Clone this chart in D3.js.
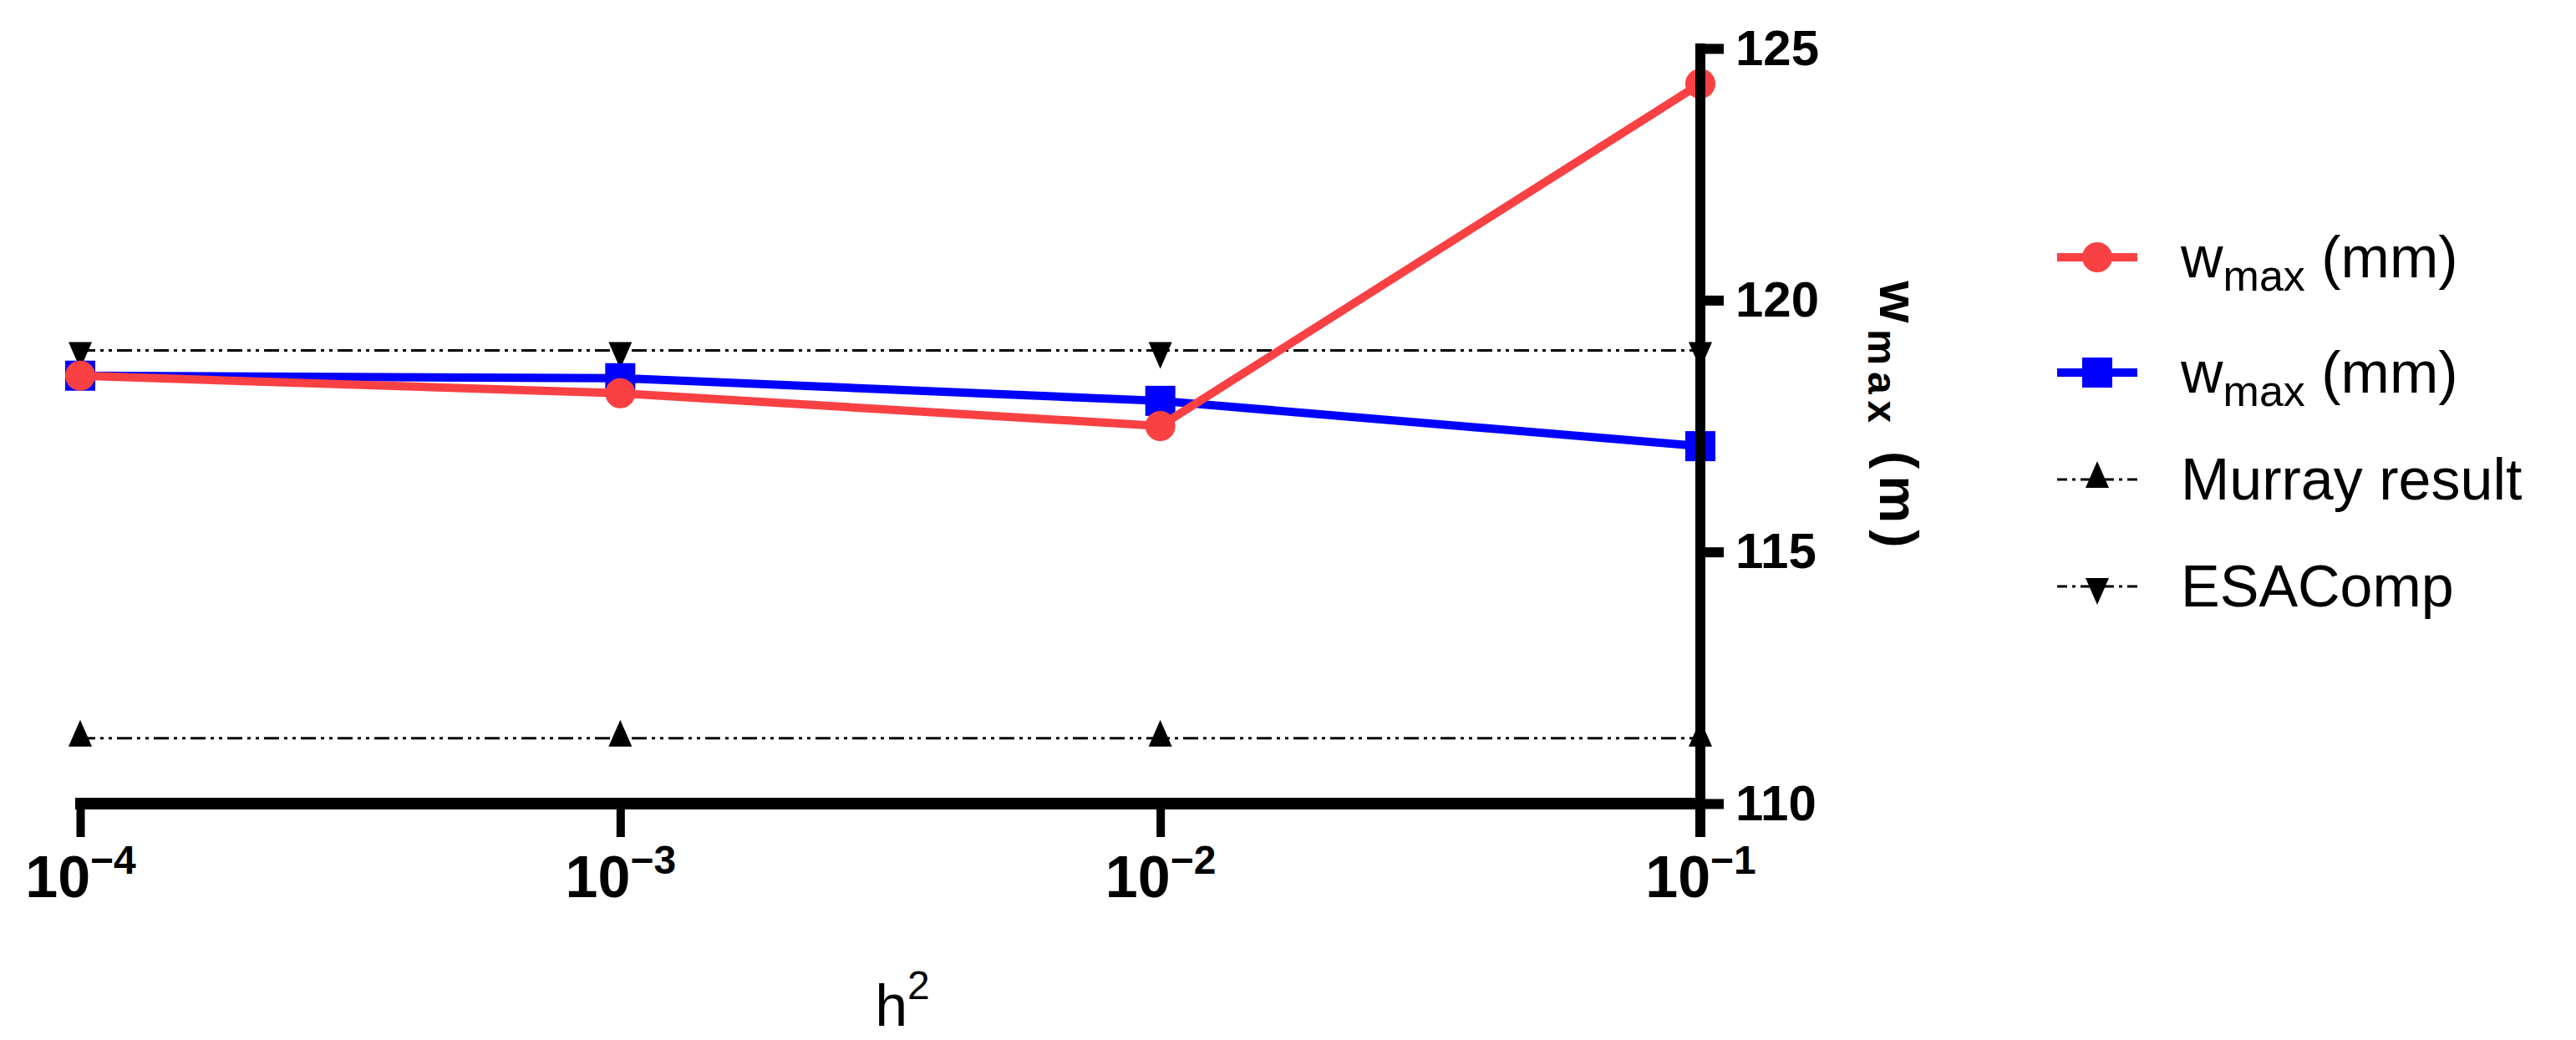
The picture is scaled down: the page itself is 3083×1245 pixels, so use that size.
<!DOCTYPE html>
<meta charset="utf-8">
<script src="https://d3js.org/d3.v7.min.js"></script>
<body style="margin:0;background:#fff">
<div id="chart"></div>
<script>
var xExp = [-4, -3, -2, -1];
var redVals = [118.5, 118.15, 117.5, 124.3];
var blueVals = [118.5, 118.45, 118.0, 117.1];
var murrayVals = [111.3, 111.3, 111.3, 111.3];
var esaVals = [119.0, 119.0, 119.0, 119.0];
var yTicks = [110, 115, 120, 125];

var W = 3083, H = 1245;
var svg = d3.select('#chart').append('svg').attr('width', W).attr('height', H)
  .style('font-family', 'Liberation Sans, Arial, sans-serif');

var x = d3.scaleLinear().domain([-4, -1]).range([96, 2035]);
var y = d3.scaleLinear().domain([110, 125]).range([962, 58]);

// dotted reference lines
var dash = '18,6,4,6,4,6';
function refLine(vals, up) {
  var line = d3.line().x(function(d, i){ return x(xExp[i]); }).y(function(d){ return y(d); });
  svg.append('path').attr('d', line(vals)).attr('fill', 'none').attr('stroke', '#000')
    .attr('stroke-width', 3).attr('stroke-dasharray', dash);
  svg.selectAll(null).data(vals).enter().append('path')
    .attr('transform', function(d, i){ return 'translate(' + x(xExp[i]) + ',' + y(d) + ')' + (up ? '' : ' rotate(180)'); })
    .attr('d', 'M0,-22L14,10L-14,10Z').attr('fill', '#000');
}
refLine(murrayVals, true);
refLine(esaVals, false);

function series(vals, color, shape) {
  var line = d3.line().x(function(d, i){ return x(xExp[i]); }).y(function(d){ return y(d); });
  svg.append('path').attr('d', line(vals)).attr('fill', 'none').attr('stroke', color).attr('stroke-width', 10);
  var g = svg.selectAll(null).data(vals).enter();
  if (shape == 'circle') {
    g.append('circle').attr('cx', function(d, i){ return x(xExp[i]); }).attr('cy', function(d){ return y(d); })
      .attr('r', 18).attr('fill', color);
  } else {
    g.append('rect').attr('x', function(d, i){ return x(xExp[i]) - 18; }).attr('y', function(d){ return y(d) - 18; })
      .attr('width', 36).attr('height', 36).attr('fill', color);
  }
}
series(blueVals, '#0000ff', 'square');
series(redVals, '#f94144', 'circle');

// axes
var yAxis = svg.append('g').attr('transform', 'translate(' + x(-1) + ',0)')
  .call(d3.axisRight(y).tickValues(yTicks).tickSize(28).tickPadding(14).tickSizeOuter(0));
yAxis.select('.domain').attr('stroke-width', 12).attr('d', 'M0,' + (y(125) - 6) + 'V' + (y(110) + 40));
yAxis.selectAll('line').attr('stroke-width', 12);
yAxis.selectAll('text').attr('font-size', 60).attr('font-weight', 'bold').attr('fill', '#000');

var xAxis = svg.append('g').attr('transform', 'translate(0,' + y(110) + ')')
  .call(d3.axisBottom(x).tickValues(xExp).tickSize(40).tickFormat('').tickSizeOuter(0));
xAxis.select('.domain').attr('stroke-width', 14).attr('d', 'M' + (x(-4) - 6) + ',0H' + x(-1));
xAxis.selectAll('line').attr('stroke-width', 10);
xAxis.selectAll('.tick').append('text').attr('y', 112).attr('fill', '#000').attr('font-size', 70)
  .attr('font-weight', 'bold').attr('text-anchor', 'middle')
  .each(function(d){
    var t = d3.select(this);
    t.append('tspan').text('10');
    t.append('tspan').attr('dy', -28).attr('font-size', 48).text('\u2212' + (-d));
  });

// axis titles
svg.append('text').attr('x', 1080).attr('y', 1228).attr('font-size', 70).attr('text-anchor', 'middle')
  .text('h').append('tspan').attr('dy', -32).attr('font-size', 48).text('2');
var yl = svg.append('text').attr('transform', 'translate(2250,500) rotate(90)').attr('text-anchor', 'middle')
  .attr('font-size', 64).attr('font-weight', 'bold').attr('letter-spacing', 8);
yl.append('tspan').text('w');
yl.append('tspan').attr('dy', 14).attr('font-size', 48).text('max');
yl.append('tspan').attr('dy', -14).text(' (m)');

// legend
var legItems = [
  {label: 'w', sub: 'max', rest: ' (mm)', color: '#f94144', kind: 'circle'},
  {label: 'w', sub: 'max', rest: ' (mm)', color: '#0000ff', kind: 'square'},
  {label: 'Murray result', color: '#000', kind: 'up'},
  {label: 'ESAComp', color: '#000', kind: 'down'}
];
var legY = [308, 446, 574, 702];
legItems.forEach(function(d, i){
  var g = svg.append('g').attr('transform', 'translate(2462,' + legY[i] + ')');
  if (d.kind == 'circle' || d.kind == 'square') {
    g.append('line').attr('x1', 0).attr('x2', 96).attr('stroke', d.color).attr('stroke-width', 10);
    if (d.kind == 'circle') g.append('circle').attr('cx', 48).attr('r', 18).attr('fill', d.color);
    else g.append('rect').attr('x', 30).attr('y', -18).attr('width', 36).attr('height', 36).attr('fill', d.color);
  } else {
    g.append('line').attr('x1', 0).attr('x2', 96).attr('stroke', '#000').attr('stroke-width', 3).attr('stroke-dasharray', '12,6,4,6');
    g.append('path').attr('transform', 'translate(48,0)' + (d.kind == 'down' ? ' rotate(180)' : ''))
      .attr('d', 'M0,-22L14,10L-14,10Z').attr('fill', '#000');
  }
  var t = g.append('text').attr('x', 148).attr('y', 24).attr('font-size', 70).attr('fill', '#000').text(d.label);
  if (d.sub) {
    t.append('tspan').attr('dy', 16).attr('font-size', 52).text(d.sub);
    t.append('tspan').attr('dy', -16).text(d.rest);
  }
});
</script>
</body>
